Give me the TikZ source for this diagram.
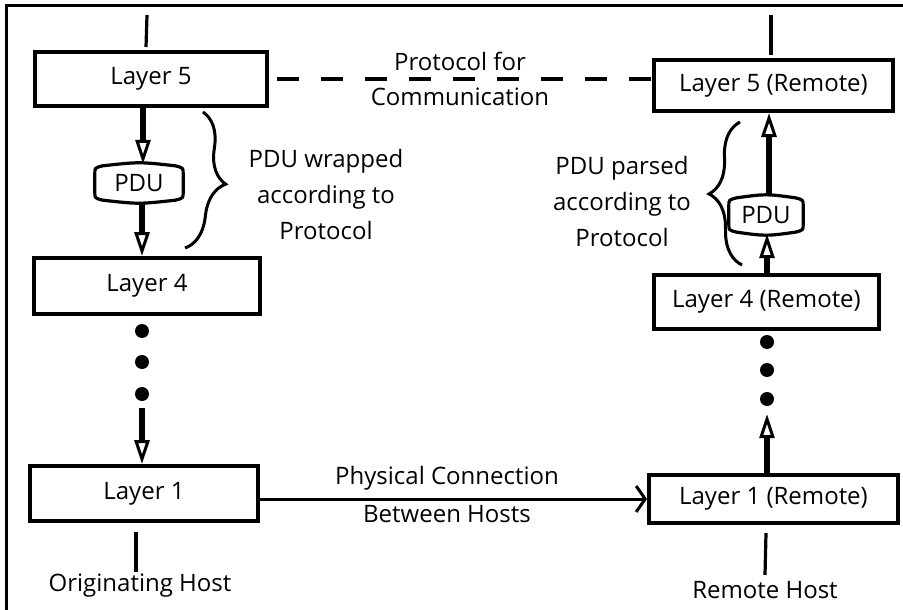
\documentclass[tikz,border=0pt]{standalone}
\usepackage{fontspec}
\setmainfont{Open Sans}
\usetikzlibrary{arrows.meta,calc,decorations.pathreplacing}

% outline of a PDU capsule: straight sides, bulging top and bottom
\newcommand{\pdubox}[1]{%
  \draw[pduline]
    ($(#1.south west)+(0,-6)$) -- ($(#1.north west)+(0,6)$)
    .. controls (#1.north west) .. ($(#1.north west)+(8,-2)$)
    .. controls ($(#1.north)+(0,-6)$) .. ($(#1.north east)+(-8,-2)$)
    .. controls (#1.north east) .. ($(#1.north east)+(0,6)$)
    -- ($(#1.south east)+(0,-6)$)
    .. controls (#1.south east) .. ($(#1.south east)+(-8,2)$)
    .. controls ($(#1.south)+(0,6)$) .. ($(#1.south west)+(8,2)$)
    .. controls (#1.south west) .. cycle;}

\tikzset{
  txt/.style={font=\fontsize{24}{36}\selectfont, align=center, inner sep=0pt},
  layer/.style={txt, draw, line width=4pt, inner sep=0pt},
  pdu/.style={txt, inner sep=0pt},
  pduline/.style={line width=3.2pt},
  flow/.style={line width=6pt,
    -{Triangle[open, length=24pt, width=15pt, line width=3pt]}},
  dot/.style={circle, fill=black, minimum size=14pt, inner sep=0pt},
  tick/.style={line width=3.2pt},
  bracestyle/.style={line width=3pt, decorate},
}

\begin{document}
\begin{tikzpicture}[x=1pt, y=-1pt]
  \useasboundingbox (0,0) rectangle (903,610);

  % frame
  \draw[line width=3pt] (6,610) -- (6,6) -- (903,6);

  % originating host stack
  \node[layer, minimum width=232pt, minimum height=54pt] (L5) at (151,79) {Layer 5};
  \node[pdu, minimum width=88pt, minimum height=30pt] (p1) at (139,183) {PDU};
  \pdubox{p1}
  \node[layer, minimum width=226pt, minimum height=56pt] (L4) at (147,286) {Layer 4};
  \node[dot] (d1) at (142,331) {};
  \node[dot] (d2) at (142,362) {};
  \node[dot] (d3) at (142,394) {};
  \node[layer, minimum width=228pt, minimum height=55pt] (L1) at (144,493.5) {Layer 1};
  \node[txt] (host1) at (140,586) {Originating Host};

  % remote host stack
  \node[layer, minimum width=239pt, minimum height=51pt] (R5) at (773.5,85.5) {Layer 5 (Remote)};
  \node[pdu, minimum width=74pt, minimum height=30pt] (p2) at (766,215) {PDU};
  \pdubox{p2}
  \node[layer, minimum width=225pt, minimum height=54pt] (R4) at (766.5,302) {Layer 4 (Remote)};
  \node[dot] (e1) at (767,342) {};
  \node[dot] (e2) at (767,370) {};
  \node[dot] (e3) at (767,399) {};
  \node[layer, minimum width=249pt, minimum height=48pt] (R1) at (773.5,499) {Layer 1 (Remote)};
  \node[txt] (host2) at (765,590) {Remote Host};

  % ticks above and below the stacks
  \coordinate (ta1) at (147,15);  \coordinate (ta2) at (146,47);
  \coordinate (tb1) at (136,532); \coordinate (tb2) at (136,572);
  \coordinate (tc1) at (771,15);  \coordinate (tc2) at (771,55);
  \coordinate (td1) at (766,533); \coordinate (td2) at (765,575);
  \draw[tick] (ta1) -- (ta2);
  \draw[tick] (tb1) -- (tb2);
  \draw[tick] (tc1) -- (tc2);
  \draw[tick] (td1) -- (td2);

  % downward flow on the originating side
  \draw[flow] (L5.south -| 143,0) -- ([yshift=4pt]p1.north -| 143,0);
  \draw[flow] ([yshift=-4pt]p1.south -| 142,0) -- (L4.north -| 142,0);
  \draw[flow, shorten <=7pt] (d3.south) -- (L1.north -| d3.south);

  % upward flow on the remote side
  \draw[flow, shorten >=8pt] (R1.north -| e3.south) -- (e3.south);
  \draw[flow] (R4.north -| 767,0) -- ([yshift=-4pt]p2.south -| 767,0);
  \draw[flow] ([yshift=4pt]p2.north -| 769,0) -- (R5.south -| 769,0);

  % protocol link between peer layers
  \draw[line width=3.5pt, dash pattern=on 22pt off 22pt, dash phase=-8pt]
    (L5.east) -- (L5.east -| R5.west);
  \node[txt] (proto1) at (460,61) {Protocol for};
  \node[txt] (proto2) at (460,97) {Communication};

  % physical link
  \draw[line width=3pt, -{Straight Barb[length=9pt, width=26pt, line width=3pt]}]
    (R1.west -| L1.east) -- (R1.west);
  \node[txt] (phys1) at (447,478) {Physical Connection};
  \node[txt] (phys2) at (447,514) {Between Hosts};

  % braces with notes
  \draw[bracestyle, decoration={brace, amplitude=32pt}] (203,112) -- (185,248);
  \node[txt] (wrap) at (326,194) {PDU wrapped\\according to\\Protocol};
  \draw[bracestyle, decoration={brace, amplitude=32pt}] (742,265) -- (740,122);
  \node[txt] (parse) at (622,201) {PDU parsed\\according to\\Protocol};
\end{tikzpicture}
\end{document}
